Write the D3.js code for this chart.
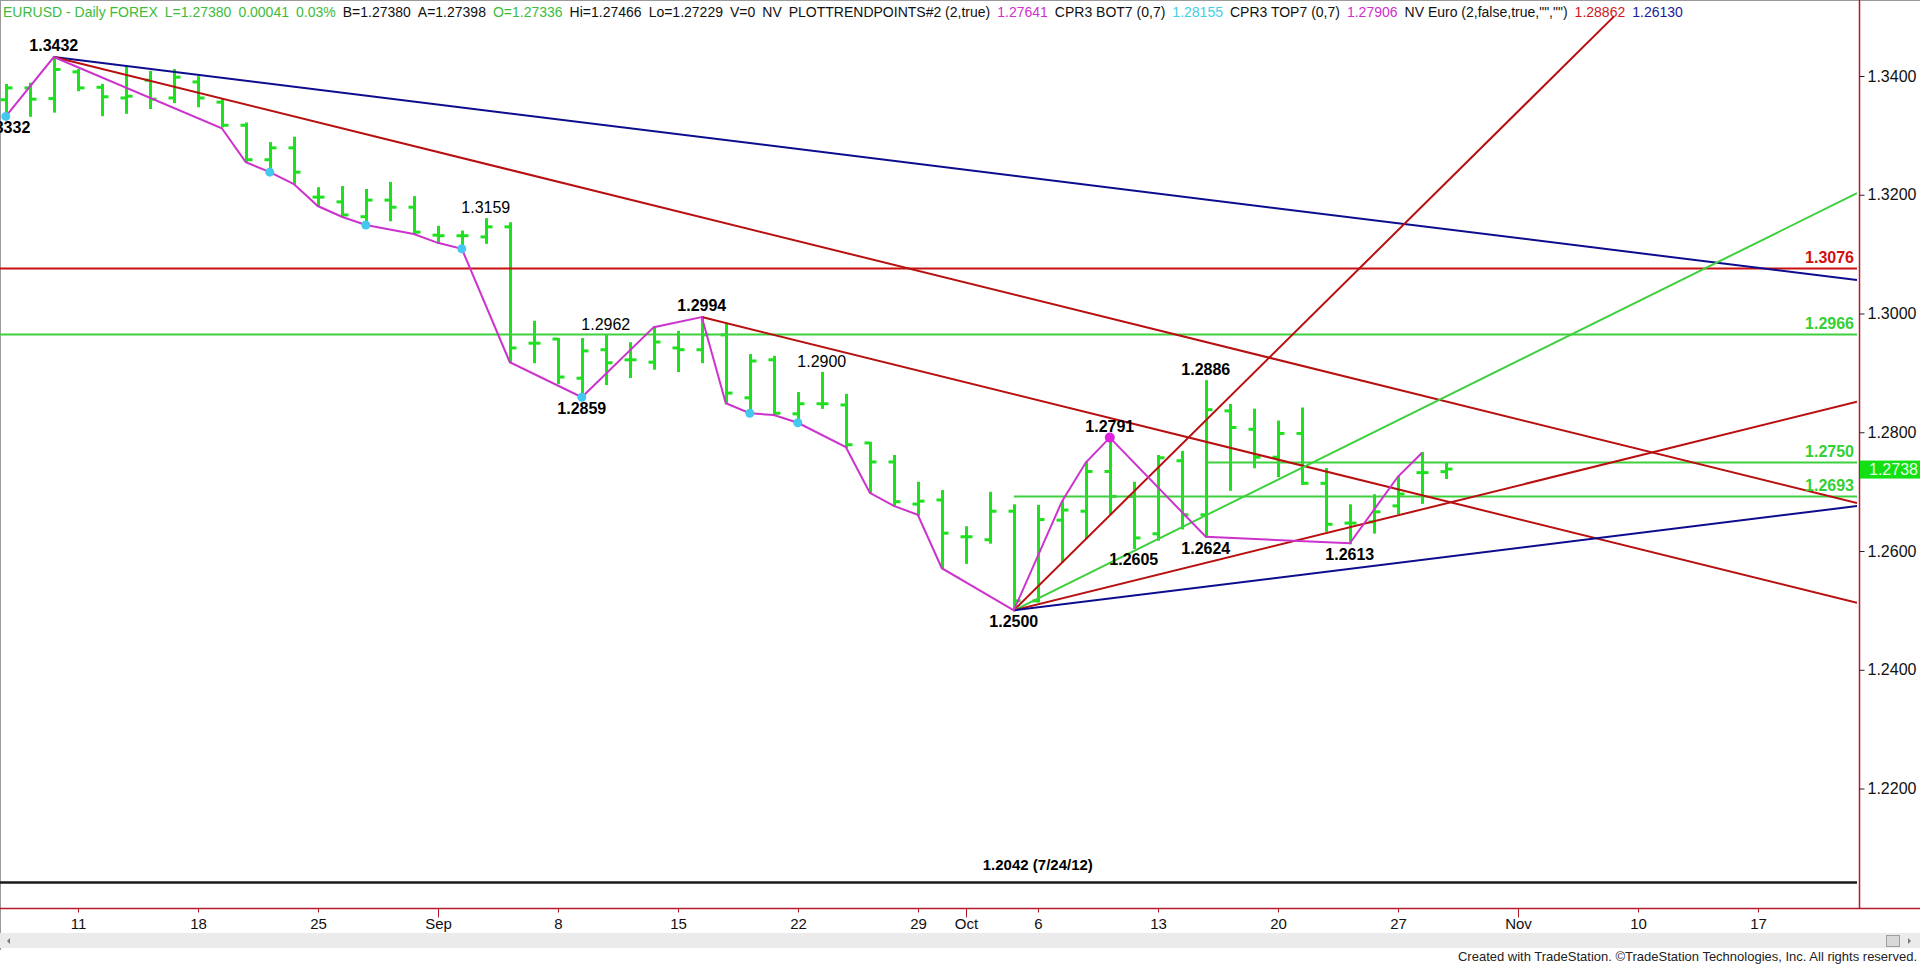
<!DOCTYPE html>
<html><head><meta charset="utf-8">
<script src="https://cdn.jsdelivr.net/npm/d3@7"></script>
<style>
html,body{margin:0;padding:0;background:#fff;overflow:hidden}
svg{display:block}
</style></head><body>
<svg id="chart" width="1920" height="964"></svg>
<script>
// ---------------- DATA ----------------
const firstDay = "2014-08-06";
const lastDay = "2014-11-21";
const dates = ["2014-08-06","2014-08-07","2014-08-08","2014-08-11","2014-08-12","2014-08-13","2014-08-14","2014-08-15",
"2014-08-18","2014-08-19","2014-08-20","2014-08-21","2014-08-22","2014-08-25","2014-08-26","2014-08-27","2014-08-28","2014-08-29",
"2014-09-01","2014-09-02","2014-09-03","2014-09-04","2014-09-05","2014-09-08","2014-09-09","2014-09-10","2014-09-11","2014-09-12",
"2014-09-15","2014-09-16","2014-09-17","2014-09-18","2014-09-19","2014-09-22","2014-09-23","2014-09-24","2014-09-25","2014-09-26",
"2014-09-29","2014-09-30","2014-10-01","2014-10-02","2014-10-03","2014-10-06","2014-10-07","2014-10-08","2014-10-09","2014-10-10",
"2014-10-13","2014-10-14","2014-10-15","2014-10-16","2014-10-17","2014-10-20","2014-10-21","2014-10-22","2014-10-23","2014-10-24",
"2014-10-27","2014-10-28","2014-10-29"];
const open = [1.3360,1.3380,1.3362,1.3407,1.3381,1.3363,1.3393,1.3363,1.3390,1.3356,1.3317,1.3259,1.3279,1.3196,1.3188,1.3163,1.3191,1.3179,
1.3132,1.3131,1.3129,1.3146,1.2950,1.2957,1.2891,1.2939,1.2922,1.2918,1.2942,1.2939,1.2964,1.2858,1.2922,1.2831,1.2848,1.2846,1.2782,1.2750,
1.2679,1.2686,1.2624,1.2619,1.2667,1.2516,1.2652,1.2667,1.2734,1.2692,1.2629,1.2752,1.2661,1.2836,1.2805,1.2758,1.2798,1.2714,1.2647,1.2649,
1.2676,1.2732,1.27336];
const high = [1.3385,1.3387,1.3432,1.3410,1.3385,1.3415,1.3407,1.3410,1.3398,1.3360,1.3320,1.3287,1.3296,1.3211,1.3213,1.3208,1.3220,1.3196,
1.3146,1.3138,1.3159,1.3152,1.2986,1.2957,1.2957,1.2962,1.2950,1.2977,1.2969,1.2994,1.2981,1.2930,1.2927,1.2866,1.2900,1.2863,1.2782,1.2760,
1.2715,1.2701,1.2640,1.2698,1.2677,1.2676,1.2683,1.2749,1.2791,1.2715,1.2760,1.2767,1.2886,1.2846,1.2838,1.2818,1.2840,1.2738,1.2677,1.2694,
1.2725,1.2765,1.27466];
const low = [1.3332,1.3333,1.3340,1.3376,1.3334,1.3338,1.3346,1.3356,1.3349,1.3315,1.3256,1.3240,1.3218,1.3181,1.3163,1.3149,1.3157,1.3134,
1.3119,1.3109,1.3119,1.2918,1.2918,1.2883,1.2859,1.2881,1.2893,1.2907,1.2903,1.2918,1.2849,1.2832,1.2829,1.2816,1.2841,1.2775,1.2698,1.2676,
1.2661,1.2571,1.2580,1.2614,1.2500,1.2515,1.2582,1.2622,1.2664,1.2605,1.2619,1.2638,1.2624,1.2703,1.2741,1.2726,1.2713,1.2634,1.2613,1.2631,
1.2664,1.2681,1.27229];
const close = [1.3380,1.3361,1.3411,1.3380,1.3365,1.3366,1.3361,1.3398,1.3363,1.3317,1.3259,1.3279,1.3238,1.3196,1.3166,1.3191,1.3179,1.3137,
1.3131,1.3131,1.3146,1.2942,1.2950,1.2893,1.2937,1.2917,1.2922,1.2952,1.2939,1.2964,1.2866,1.2920,1.2832,1.2848,1.2848,1.2779,1.2750,1.2683,
1.2684,1.2630,1.2624,1.2667,1.2516,1.2653,1.2669,1.2734,1.2692,1.2622,1.2757,1.2661,1.2838,1.2808,1.2758,1.2798,1.2714,1.2645,1.2647,1.2666,
1.2696,1.2732,1.27380];

// swing (trend points) line
const swingDates = ["2014-08-06","2014-08-08","2014-08-19","2014-08-20","2014-08-21","2014-08-22","2014-08-25","2014-08-26","2014-08-27",
"2014-08-29","2014-09-01","2014-09-02","2014-09-04","2014-09-09","2014-09-12","2014-09-16","2014-09-17","2014-09-18","2014-09-19",
"2014-09-22","2014-09-24","2014-09-25","2014-09-26","2014-09-29","2014-09-30","2014-10-03","2014-10-07","2014-10-08","2014-10-09",
"2014-10-15","2014-10-23","2014-10-27","2014-10-28"];
const swingPrices = [1.3332,1.3432,1.3312,1.3255,1.3238,1.3218,1.3181,1.3163,1.3149,1.3134,1.3119,1.3109,1.2918,1.2859,1.2977,1.2994,
1.2849,1.2832,1.2829,1.2816,1.2775,1.2698,1.2676,1.2661,1.2571,1.2500,1.2683,1.2749,1.2791,1.2624,1.2613,1.2725,1.2765];
const cyanDotDates = ["2014-08-06","2014-08-21","2014-08-27","2014-09-02","2014-09-09","2014-09-18","2014-09-22"];
const cyanDotPrices = [1.3332,1.3238,1.3149,1.3109,1.2859,1.2832,1.2816];
const magentaDotDates = ["2014-10-09"];
const magentaDotPrices = [1.2791];

// pivot labels
const pivotDates = ["2014-08-06","2014-08-08","2014-09-03","2014-09-10","2014-09-09","2014-09-16","2014-09-23","2014-10-09","2014-10-15","2014-10-10","2014-10-15","2014-10-23","2014-10-03"];
const pivotPrices = [1.3332,1.3432,1.3159,1.2962,1.2859,1.2994,1.2900,1.2791,1.2886,1.2605,1.2624,1.2613,1.2500];
const pivotSide = ["below","above","above","above","below","above","above","above","above","below","below","below","below"];
const pivotBold = [true,true,false,false,true,true,false,true,true,true,true,true,true];

// trend lines: start date, start price, slope (price per bar)
const trendStartDates = ["2014-08-08","2014-08-08","2014-09-16","2014-10-03","2014-10-03","2014-10-03","2014-10-03"];
const trendStartPrices = [1.3432,1.3432,1.2994,1.2500,1.2500,1.2500,1.2500];
const trendSlopes = [-0.0005,-0.001,-0.001,0.004,0.002,0.001,0.0005];
const trendKinds = ["blue","red","red","red","green","red","blue"];

// horizontal levels
const levelPrices = [1.3076,1.2966,1.2750,1.2693,1.2042];
const levelStart = ["2014-08-06","2014-08-06","2014-10-15","2014-10-03","2014-08-06"];
const levelLabels = ["1.3076","1.2966","1.2750","1.2693",""];
const levelKinds = ["red","green","green","green","black"];
const oldLowLabel = "1.2042 (7/24/12)";
const oldLowLabelDate = "2014-10-06";
const lastPrice = 1.2738;

// axes
const yTicks = [1.22,1.24,1.26,1.28,1.30,1.32,1.34];
const xTickDates = ["2014-08-11","2014-08-18","2014-08-25","2014-09-01","2014-09-08","2014-09-15","2014-09-22","2014-09-29",
"2014-10-01","2014-10-06","2014-10-13","2014-10-20","2014-10-27","2014-11-03","2014-11-10","2014-11-17"];
const xTickLabels = ["11","18","25","Sep","8","15","22","29","Oct","6","13","20","27","Nov","10","17"];

const headerParts = [
 ["EURUSD - Daily  FOREX","g"],["L=1.27380","g"],["0.00041","g"],["0.03%","g"],["B=1.27380","k"],["A=1.27398","k"],
 ["O=1.27336","g"],["Hi=1.27466","k"],["Lo=1.27229","k"],["V=0","k"],["NV","k"],["PLOTTRENDPOINTS#2 (2,true)","k"],
 ["1.27641","m"],["CPR3 BOT7 (0,7)","k"],["1.28155","c"],["CPR3 TOP7 (0,7)","k"],["1.27906","m"],
 ["NV Euro (2,false,true,\"\",\"\")","k"],["1.28862","r"],["1.26130","b"]];

// ---------------- STYLE ----------------
const C = {
  bar:"#1fe01f", green:"#3fd03f", red:"#b81010", blue:"#0c0c8e", black:"#111",
  magenta:"#cc33cc", cyan:"#44c8f0", axis:"#b31b2c",
  g:"#3cbc3c", k:"#111", m:"#d030d0", c:"#40d0e8", r:"#d01818", b:"#1a1a9a"
};
const narrow = "'Liberation Sans Narrow','Arial Narrow','Liberation Sans',Arial,sans-serif";
const sans = "'Liberation Sans',Arial,sans-serif";

// ---------------- SCALES ----------------
const parse = d3.timeParse("%Y-%m-%d"), fmt = d3.timeFormat("%Y-%m-%d");
const days = d3.timeDay.range(parse(firstDay), d3.timeDay.offset(parse(lastDay),1))
  .filter(d => d.getDay()!==0 && d.getDay()!==6).map(fmt);
const idx = new Map(days.map((d,i)=>[d,i]));
const plotRight = 1857, axisX = 1859.5, axisY = 908.5;
const x = d3.scaleLinear().domain([0, days.length-1]).range([5.8, 1853.8]);
const y = d3.scaleLinear().domain([1.22, 1.34]).range([788.5, 76]);
const xd = d => x(idx.get(d));
const snap = v => Math.round(v) + 0.5;

const svg = d3.select("#chart");
svg.append("rect").attr("width",1920).attr("height",964).attr("fill","#fff");
svg.append("defs").append("clipPath").attr("id","plot")
  .append("rect").attr("x",0).attr("y",0).attr("width",plotRight).attr("height",907);

// borders
svg.append("line").attr("x1",0.5).attr("x2",0.5).attr("y1",0).attr("y2",950).attr("stroke","#9a9a9a");
svg.append("line").attr("x1",0).attr("x2",1920).attr("y1",0.5).attr("y2",0.5).attr("stroke","#9a9a9a");

// header
const hdr = svg.append("text").attr("x",3).attr("y",16.5)
  .style("font-family",narrow).style("font-size","14px");
headerParts.forEach((p,i)=>{
  hdr.append("tspan").attr("dx", i===0?0:7).attr("fill",C[p[1]]).text(p[0]);
});

const plot = svg.append("g").attr("clip-path","url(#plot)");

// bars
const bars = plot.append("g");
dates.forEach((d,i)=>{
  const cx = snap(xd(d));
  bars.append("line").attr("x1",cx).attr("x2",cx).attr("y1",y(high[i])-1).attr("y2",y(low[i])+1)
    .attr("stroke",C.bar).attr("stroke-width",3);
  bars.append("line").attr("x1",cx-6).attr("x2",cx).attr("y1",y(open[i])).attr("y2",y(open[i]))
    .attr("stroke",C.bar).attr("stroke-width",3);
  bars.append("line").attr("x1",cx).attr("x2",cx+6).attr("y1",y(close[i])).attr("y2",y(close[i]))
    .attr("stroke",C.bar).attr("stroke-width",3);
});

// horizontal levels
levelPrices.forEach((p,i)=>{
  const col = levelKinds[i]==="red"?"#c81010":levelKinds[i]==="green"?C.green:"#1a1a1a";
  const x0 = levelStart[i]===firstDay ? 0 : xd(levelStart[i]);
  plot.append("line").attr("x1",x0).attr("x2",plotRight).attr("y1",Math.round(y(p))+0.5).attr("y2",Math.round(y(p))+0.5)
    .attr("stroke",col).attr("stroke-width",levelKinds[i]==="black"?2.5:2);
  if(levelLabels[i]){
    svg.append("text").attr("x",1854).attr("y",y(p)-5).attr("text-anchor","end")
      .style("font-family",sans).style("font-size","16px").style("font-weight","bold")
      .attr("fill",levelKinds[i]==="red"?"#d01010":"#33d033").text(levelLabels[i]);
  }
});

// trend lines
const endIdx = x.invert(plotRight);
trendStartDates.forEach((d,i)=>{
  const i0 = idx.get(d), p0 = trendStartPrices[i], s = trendSlopes[i];
  let i1 = endIdx, p1 = p0 + s*(endIdx-i0);
  if(p1 > 1.35){ p1 = 1.35; i1 = i0 + (1.35-p0)/s; }
  const col = trendKinds[i]==="red"?C.red:trendKinds[i]==="green"?C.green:C.blue;
  plot.append("line").attr("x1",x(i0)).attr("y1",y(p0)).attr("x2",x(i1)).attr("y2",y(p1))
    .attr("stroke",col).attr("stroke-width",2);
});

// swing line
plot.append("path")
  .attr("d", d3.line().x(d=>xd(d[0])).y(d=>y(d[1]))(swingDates.map((d,i)=>[d,swingPrices[i]])))
  .attr("fill","none").attr("stroke",C.magenta).attr("stroke-width",2);
cyanDotDates.forEach((d,i)=>{
  plot.append("circle").attr("cx",xd(d)).attr("cy",y(cyanDotPrices[i])).attr("r",4.5).attr("fill",C.cyan);
});
magentaDotDates.forEach((d,i)=>{
  plot.append("circle").attr("cx",xd(d)).attr("cy",y(magentaDotPrices[i])).attr("r",5).attr("fill","#e020e0");
});

// pivot labels
pivotDates.forEach((d,i)=>{
  const py = y(pivotPrices[i]);
  svg.append("text").attr("x",xd(d)).attr("y", pivotSide[i]==="above" ? py-6 : py+17)
    .attr("text-anchor","middle").style("font-family",sans).style("font-size","16px")
    .style("font-weight",pivotBold[i]?"bold":"normal").attr("fill","#000")
    .text(pivotPrices[i].toFixed(4));
});
svg.append("text").attr("x",xd(oldLowLabelDate)).attr("y",870).attr("text-anchor","middle")
  .style("font-family",sans).style("font-size","15px").style("font-weight","bold").attr("fill","#000").text(oldLowLabel);

// right axis
svg.append("line").attr("x1",axisX).attr("x2",axisX).attr("y1",0).attr("y2",axisY).attr("stroke",C.axis).attr("stroke-width",1.5);
const yAxis = svg.append("g").attr("transform",`translate(${axisX},0)`)
  .call(d3.axisRight(y).tickValues(yTicks).tickFormat(d3.format(".4f")).tickSize(5).tickPadding(3));
yAxis.select(".domain").remove();
yAxis.selectAll("line").attr("stroke","#222");
yAxis.selectAll("text").style("font-family",sans).style("font-size","16px").attr("fill","#111");

// last price box
svg.append("rect").attr("x",1860).attr("y",y(lastPrice)-8.5).attr("width",60).attr("height",18).attr("fill","#12e012");
svg.append("text").attr("x",1869).attr("y",y(lastPrice)+0.5).attr("dy","0.35em")
  .style("font-family",sans).style("font-size","16px").attr("fill","#e6ffe6").text(lastPrice.toFixed(4));

// bottom axis
svg.append("line").attr("x1",0).attr("x2",1920).attr("y1",axisY).attr("y2",axisY).attr("stroke",C.axis).attr("stroke-width",1.5);
const xt = svg.append("g");
xTickDates.forEach((d,i)=>{
  const tx = snap(xd(d));
  const isMonth = isNaN(+xTickLabels[i]);
  xt.append("line").attr("x1",tx).attr("x2",tx).attr("y1",axisY).attr("y2",axisY+(isMonth?9:4)).attr("stroke","#b31b2c");
  xt.append("text").attr("x",tx).attr("y",929).attr("text-anchor","middle")
    .style("font-family",sans).style("font-size","15px").attr("fill","#111").text(xTickLabels[i]);
});

// scrollbar & footer
svg.append("rect").attr("x",0).attr("y",933).attr("width",1920).attr("height",15).attr("fill","#ebebeb");
svg.append("rect").attr("x",1886.5).attr("y",935.5).attr("width",13).attr("height",11).attr("fill","#d8d8d8").attr("stroke","#a0a0a0");
svg.append("path").attr("d","M1908,938 L1911,941 L1908,944 Z").attr("fill","#777");
svg.append("path").attr("d","M10,938 L7,941 L10,944 Z").attr("fill","#777");
svg.append("text").attr("x",1917).attr("y",961).attr("text-anchor","end")
  .style("font-family",narrow).style("font-size","13px").attr("fill","#222")
  .text("Created with TradeStation. \u00A9TradeStation Technologies, Inc. All rights reserved.");
</script>
</body></html>
